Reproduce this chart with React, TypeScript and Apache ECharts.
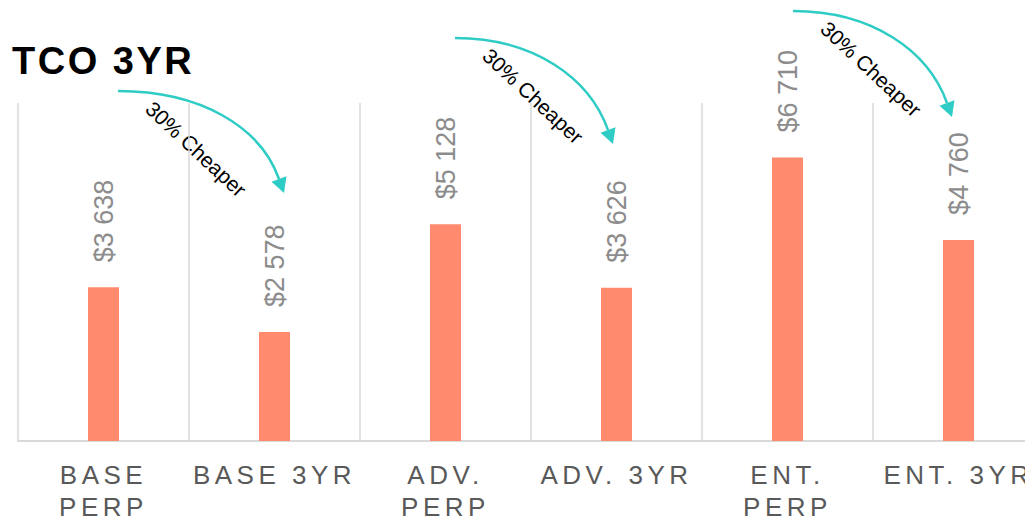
import React, { useEffect, useRef } from "react";
import * as echarts from "echarts";

// ---- data ----
const titleText = "TCO 3YR";
const categories = ["BASE\nPERP", "BASE 3YR", "ADV.\nPERP", "ADV. 3YR", "ENT.\nPERP", "ENT. 3YR"];
const tcoValues = [3638, 2578, 5128, 3626, 6710, 4760];
const savingsText = "30% Cheaper";

// ---- annotation layout (arrows between each pair) ----
const arrowLayout = [
  { x: 118, y: 91, w: 166, h: 102 },
  { x: 455, y: 38, w: 158, h: 106 },
  { x: 793, y: 11, w: 159, h: 106 },
];

const FONT = "'Liberation Sans', Arial, Helvetica, sans-serif";
const TEAL = "#2ECCC4";
const BAR = "#FF8A6D";

function fmt(v: number): string {
  return "$" + String(v).replace(/\B(?=(\d{3})+(?!\d))/g, " ");
}

function makeArrow(a: { x: number; y: number; w: number; h: number }) {
  const tip = { x: a.w, y: a.h };
  const end = { x: tip.x - 5, y: tip.y - 14 };
  const cp1 = { x: a.w * 0.5, y: 0 };
  const cp2 = { x: end.x - 18.5, y: end.y - 52 };
  return {
    type: "group",
    x: a.x,
    y: a.y,
    silent: true,
    children: [
      {
        type: "bezierCurve",
        shape: { x1: 0, y1: 0, x2: end.x, y2: end.y, cpx1: cp1.x, cpy1: cp1.y, cpx2: cp2.x, cpy2: cp2.y },
        style: { stroke: TEAL, lineWidth: 2.5, fill: null },
      },
      {
        type: "polygon",
        shape: {
          points: [
            [tip.x, tip.y],
            [tip.x + 2.5, tip.y - 16.7],
            [tip.x - 12.5, tip.y - 11.3],
          ],
        },
        style: { fill: TEAL },
      },
      {
        type: "text",
        x: 78,
        y: 58,
        rotation: (-43 * Math.PI) / 180,
        style: {
          text: savingsText,
          fontSize: 21,
          fontFamily: FONT,
          fill: "#000",
          align: "center",
          verticalAlign: "middle",
          textAlign: "center",
          textVerticalAlign: "middle",
        },
      },
    ],
  };
}

export default function App() {
  const ref = useRef<HTMLDivElement>(null);

  useEffect(() => {
    if (!ref.current) return;
    const chart = echarts.init(ref.current, undefined, { renderer: "svg" });
    const labelLines = new Set<string>();
    categories.forEach((c) => c.split("\n").forEach((l) => labelLines.add(l)));

    const applySpacing = () => {
      if (!ref.current) return;
      const texts = ref.current.querySelectorAll("text");
      texts.forEach((t) => {
        const s = (t.textContent || "").trim();
        if (s === titleText) t.setAttribute("letter-spacing", "2.5");
        else if (labelLines.has(s)) t.setAttribute("letter-spacing", "4.5");
      });
    };
    chart.on("finished", applySpacing);

    chart.setOption({
      animation: false,
      title: {
        text: titleText,
        left: 12,
        top: 42,
        padding: 0,
        textStyle: { fontSize: 38, fontWeight: "bold", color: "#000", fontFamily: FONT },
      },
      grid: {
        left: 18,
        top: 103,
        width: 1026,
        height: 338,
        containLabel: false,
        outerBoundsMode: "none",
      },
      xAxis: {
        type: "category",
        data: categories,
        axisTick: { show: false },
        axisLine: { lineStyle: { color: "#d9d9d9", width: 2 } },
        splitLine: { show: true, interval: 0, lineStyle: { color: "#d9d9d9", width: 1.5 } },
        axisLabel: {
          interval: 0,
          margin: 18,
          fontSize: 26,
          lineHeight: 32,
          color: "#595959",
          fontFamily: FONT,
          hideOverlap: false,
        },
      },
      yAxis: {
        type: "value",
        min: 0,
        max: 8000,
        show: false,
        splitLine: { show: false },
      },
      series: [
        {
          type: "bar",
          data: tcoValues,
          barWidth: 31,
          itemStyle: { color: BAR },
          label: {
            show: true,
            position: "top",
            distance: 25,
            rotate: 90,
            align: "left",
            verticalAlign: "middle",
            fontSize: 27,
            color: "#8c8c8c",
            fontFamily: FONT,
            formatter: (p: any) => fmt(p.value),
          },
        },
      ],
      graphic: arrowLayout.map(makeArrow),
    });
    const tm = setTimeout(applySpacing, 60);

    return () => {
      clearTimeout(tm);
      chart.dispose();
    };
  }, []);

  return (
    <div
      ref={ref}
      style={{ position: "absolute", left: 0, top: 0, width: 1025, height: 519, background: "#fff" }}
    />
  );
}
